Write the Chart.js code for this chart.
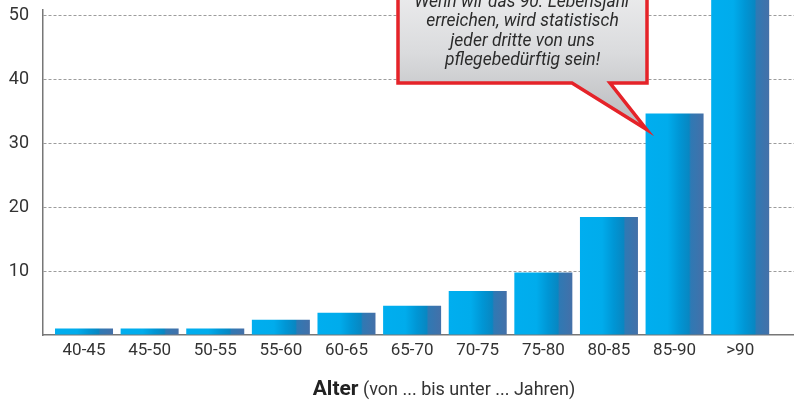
<!DOCTYPE html>
<html>
<head>
<meta charset="utf-8">
<script src="https://cdn.jsdelivr.net/npm/chart.js@4.4.1/dist/chart.umd.min.js"></script>
<style>
  html, body { margin: 0; padding: 0; background: #fff; }
  #wrap { position: relative; width: 794px; height: 403px; }
</style>
</head>
<body>
<div id="wrap"><canvas id="chart" width="794" height="403"></canvas></div>
<script>
const ageGroups = ['40-45', '45-50', '50-55', '55-60', '60-65', '65-70', '70-75', '75-80', '80-85', '85-90', '>90'];
const careShare = [1.0, 1.0, 1.0, 2.4, 3.5, 4.6, 6.9, 9.8, 18.5, 34.7, 60];
const yTicks = [0, 10, 20, 30, 40, 50];
const calloutLines = ['Wenn wir das 90. Lebensjahr', 'erreichen, wird statistisch', 'jeder dritte von uns', 'pflegebedürftig sein!'];
const axisTitleBold = 'Alter';
const axisTitleRest = ' (von ... bis unter ... Jahren)';

const FONT = 'Roboto, "DejaVu Sans", sans-serif';
const BAR_FRAC = 0.884;

function barGradient(ctx) {
  const chart = ctx.chart;
  const xs = chart.scales.x;
  if (!xs || !chart.chartArea) return '#00aeef';
  const step = xs.getPixelForValue(1) - xs.getPixelForValue(0);
  const cx = xs.getPixelForValue(ctx.dataIndex);
  const half = step * BAR_FRAC / 2;
  const g = chart.ctx.createLinearGradient(cx - half, 0, cx + half, 0);
  g.addColorStop(0, '#00aeef');
  g.addColorStop(0.38, '#00acec');
  g.addColorStop(0.58, '#0096d5');
  g.addColorStop(0.75, '#0887c2');
  g.addColorStop(0.78, '#2f79b4');
  g.addColorStop(1, '#4470a8');
  return g;
}

// Sprechblase + Achsentitel
const decoPlugin = {
  id: 'deco',
  afterDraw(chart) {
    const { ctx, scales: { x, y } } = chart;
    const L = 398, R = 647, T = -40, B = 83;
    const tipX = x.getPixelForValue(9) - (x.getPixelForValue(1) - x.getPixelForValue(0)) * BAR_FRAC / 2 + 1;
    const tipY = y.getPixelForValue(32.2);
    ctx.save();
    ctx.beginPath();
    ctx.moveTo(L, T);
    ctx.lineTo(R, T);
    ctx.lineTo(R, B);
    ctx.lineTo(610, B);
    ctx.lineTo(tipX, tipY);
    ctx.lineTo(572, B);
    ctx.lineTo(L, B);
    ctx.closePath();
    const g = ctx.createLinearGradient(0, T, 0, tipY);
    g.addColorStop(0, '#f4f4f5');
    g.addColorStop(0.55, '#dadbdd');
    g.addColorStop(1, '#b8b9bc');
    ctx.fillStyle = g;
    ctx.fill();
    ctx.lineJoin = 'miter';
    ctx.lineWidth = 3.5;
    ctx.strokeStyle = '#e52329';
    ctx.stroke();

    ctx.fillStyle = '#2b2b2b';
    ctx.font = 'italic 17.5px ' + FONT;
    ctx.textAlign = 'center';
    ctx.textBaseline = 'alphabetic';
    calloutLines.forEach((t, i) => ctx.fillText(t, (L + R) / 2, 7 + i * 19.3));

    // Achsentitel
    const base = 395;
    ctx.textAlign = 'left';
    ctx.font = 'bold 21px ' + FONT;
    const w1 = ctx.measureText(axisTitleBold).width;
    ctx.font = '18px ' + FONT;
    const w2 = ctx.measureText(axisTitleRest).width;
    const x0 = 444 - (w1 + w2) / 2;
    ctx.fillStyle = '#222';
    ctx.font = 'bold 21px ' + FONT;
    ctx.fillText(axisTitleBold, x0, base);
    ctx.fillStyle = '#333';
    ctx.font = '18px ' + FONT;
    ctx.fillText(axisTitleRest, x0 + w1, base);
    ctx.restore();
  }
};

new Chart(document.getElementById('chart'), {
  type: 'bar',
  data: {
    datasets: [{
      data: careShare.map((v, i) => ({ x: i, y: v })),
      backgroundColor: barGradient,
      borderWidth: 0,
      barPercentage: 1,
      categoryPercentage: BAR_FRAC,
      clip: false
    }]
  },
  options: {
    responsive: false,
    animation: false,
    events: [],
    layout: { padding: { top: 10, left: 0, right: 0, bottom: 0 } },
    plugins: { legend: { display: false }, tooltip: { enabled: false } },
    scales: {
      x: {
        type: 'linear',
        bounds: 'data',
        offset: false,
        min: -0.625,
        max: 10.82,
        afterBuildTicks: s => { s.ticks = ageGroups.map((_, i) => ({ value: i })); },
        afterFit: s => { s.height = 68; s.paddingLeft = 0; s.paddingRight = 0; },
        grid: { display: false, drawTicks: false, offset: false },
        border: { display: true, color: '#777', width: 1.5 },
        ticks: {
          callback: v => ageGroups[v],
          autoSkip: false,
          maxRotation: 0,
          padding: 6,
          color: '#333',
          font: { family: FONT, size: 17 }
        }
      },
      y: {
        min: 0,
        max: 50.9,
        afterBuildTicks: s => { s.ticks = yTicks.map(v => ({ value: v })); },
        afterFit: s => { s.width = 43; s.paddingTop = 0; s.paddingBottom = 0; },
        grid: {
          color: c => c.tick && c.tick.value === 0 ? 'rgba(0,0,0,0)' : '#9c9c9c',
          lineWidth: 1,
          drawTicks: false
        },
        border: { display: true, color: '#777', width: 1.5, dash: [3, 2] },
        ticks: {
          callback: v => v === 0 ? '' : v,
          padding: 14,
          color: '#333',
          font: { family: FONT, size: 18 }
        }
      }
    }
  },
  plugins: [decoPlugin]
});
</script>
</body>
</html>
